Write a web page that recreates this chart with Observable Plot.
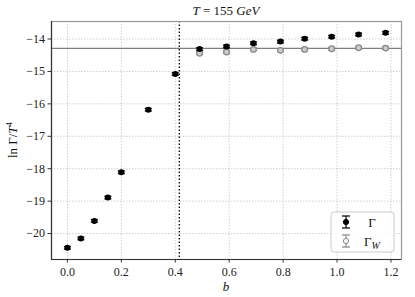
<!DOCTYPE html>
<html><head><meta charset="utf-8">
<script src="https://cdn.jsdelivr.net/npm/d3@7"></script>
<script src="https://cdn.jsdelivr.net/npm/@observablehq/plot@0.6"></script>
<style>
body{margin:0;background:#fff;}
svg text{font-family:"Liberation Serif","DejaVu Serif",serif !important;}
</style></head>
<body><div id="chart"></div>
<script>
// Data
const bGamma = [0.0, 0.05, 0.1, 0.15, 0.2, 0.3, 0.4, 0.49, 0.59, 0.69, 0.79, 0.88, 0.98, 1.08, 1.18];
const lnGamma = [-20.44, -20.15, -19.61, -18.89, -18.11, -16.18, -15.08, -14.31, -14.23, -14.13, -14.08, -13.99, -13.93, -13.86, -13.81];
const errGamma = [0.04, 0.04, 0.04, 0.04, 0.04, 0.04, 0.04, 0.04, 0.04, 0.04, 0.04, 0.04, 0.04, 0.04, 0.04];
const bW = [0.49, 0.59, 0.69, 0.79, 0.88, 0.98, 1.08, 1.18];
const lnGammaW = [-14.44, -14.40, -14.32, -14.35, -14.32, -14.30, -14.27, -14.28];
const errW = [0.04, 0.04, 0.04, 0.04, 0.04, 0.04, 0.04, 0.04];
const hLine = [-14.29];
const vLine = [0.415];
const xTicks = [0.0, 0.2, 0.4, 0.6, 0.8, 1.0, 1.2];
const yTicks = [-14, -15, -16, -17, -18, -19, -20];
const xDomain = [-0.059, 1.239];
const yDomain = [-20.8, -13.46];

const G = bGamma.map((b, i) => ({b, v: lnGamma[i], e: errGamma[i]}));
const W = bW.map((b, i) => ({b, v: lnGammaW[i], e: errW[i]}));

const cap = {draw(ctx, size){ ctx.moveTo(-3.5, 0); ctx.lineTo(3.5, 0); }};
const minus = d => (d < 0 ? "\u2212" : "") + Math.abs(d);
const ff = "Liberation Serif, DejaVu Serif, serif";

const plot = Plot.plot({
  width: 415, height: 297,
  marginLeft: 51, marginRight: 14, marginTop: 21, marginBottom: 38,
  style: {fontFamily: ff, fontSize: "12px", color: "#222"},
  x: {domain: xDomain, label: null},
  y: {domain: yDomain, label: null},
  marks: [
    Plot.gridX(xTicks, {stroke: "#bbb", strokeOpacity: 1, strokeDasharray: "1.5,1.5", strokeWidth: 0.7}),
    Plot.gridY(yTicks, {stroke: "#bbb", strokeOpacity: 1, strokeDasharray: "1.5,1.5", strokeWidth: 0.7}),
    Plot.ruleY(hLine, {stroke: "#7f7f7f", strokeWidth: 1.3}),
    Plot.ruleX(vLine, {stroke: "#000", strokeDasharray: "1.5,2", strokeWidth: 1.3}),
    // Gamma_W
    Plot.link(W, {x1: "b", x2: "b", y1: d => d.v - d.e, y2: d => d.v + d.e, stroke: "#888", strokeWidth: 1.2}),
    Plot.dot(W, {x: "b", y: d => d.v - d.e, symbol: cap, stroke: "#888", strokeWidth: 1.2}),
    Plot.dot(W, {x: "b", y: d => d.v + d.e, symbol: cap, stroke: "#888", strokeWidth: 1.2}),
    Plot.dot(W, {x: "b", y: "v", r: 2.8, stroke: "#888", fill: "#ccc", strokeWidth: 1.2}),
    // Gamma
    Plot.link(G, {x1: "b", x2: "b", y1: d => d.v - d.e, y2: d => d.v + d.e, stroke: "#000", strokeWidth: 1.2}),
    Plot.dot(G, {x: "b", y: d => d.v - d.e, symbol: cap, stroke: "#000", strokeWidth: 1.3}),
    Plot.dot(G, {x: "b", y: d => d.v + d.e, symbol: cap, stroke: "#000", strokeWidth: 1.3}),
    Plot.dot(G, {x: "b", y: "v", r: 3, fill: "#000"}),
    Plot.frame({stroke: "#999", strokeWidth: 1.2}),
    Plot.ruleX([xDomain[0]], {stroke: "#333", strokeWidth: 1.2}),
    Plot.ruleY([yDomain[0]], {stroke: "#333", strokeWidth: 1.2}),
    Plot.axisX({ticks: xTicks, tickFormat: d3.format(".1f"), tickSize: 3.5, stroke: "#333", fontSize: 12, fontFamily: ff, label: null, tickPadding: 4}),
    Plot.axisY({ticks: yTicks, tickFormat: minus, tickSize: 3.5, stroke: "#333", fontSize: 12, fontFamily: ff, label: null, tickPadding: 3})
  ]
});

const svg = d3.select(plot);
// Title
const t = svg.append("text").attr("x", 226).attr("y", 15).attr("text-anchor", "middle")
  .attr("font-size", 13).attr("font-family", ff).attr("fill", "#111");
t.append("tspan").attr("font-style", "italic").text("T");
t.append("tspan").text(" = 155 ");
t.append("tspan").attr("font-style", "italic").text("GeV");
// x label
svg.append("text").attr("x", 226).attr("y", 291).attr("text-anchor", "middle")
  .attr("font-size", 13).attr("font-style", "italic").attr("font-family", ff).attr("fill", "#111").text("b");
// y label
const yl = svg.append("text").attr("transform", "translate(17,140) rotate(-90)").attr("text-anchor", "middle")
  .attr("font-size", 13).attr("font-family", ff).attr("fill", "#111");
yl.append("tspan").text("ln \u0393/");
yl.append("tspan").attr("font-style", "italic").text("T");
yl.append("tspan").attr("font-size", 9).attr("dy", -5).text("4");
// Legend
const lg = svg.append("g");
lg.append("rect").attr("x", 331).attr("y", 212).attr("width", 63).attr("height", 40).attr("rx", 3)
  .attr("fill", "#fff").attr("fill-opacity", 0.85).attr("stroke", "#ccc");
function entry(y, color, fill, label, sub) {
  lg.append("line").attr("x1", 346).attr("x2", 346).attr("y1", y - 6).attr("y2", y + 6).attr("stroke", color).attr("stroke-width", 1.2);
  lg.append("line").attr("x1", 342).attr("x2", 350).attr("y1", y - 6).attr("y2", y - 6).attr("stroke", color).attr("stroke-width", 1.2);
  lg.append("line").attr("x1", 342).attr("x2", 350).attr("y1", y + 6).attr("y2", y + 6).attr("stroke", color).attr("stroke-width", 1.2);
  lg.append("circle").attr("cx", 346).attr("cy", y).attr("r", 2.6).attr("fill", fill).attr("stroke", color);
  const tx = lg.append("text").attr("x", 372).attr("y", y + 4.5).attr("font-size", 13).attr("font-family", ff).attr("fill", "#111");
  tx.append("tspan").text(label);
  if (sub) tx.append("tspan").attr("font-size", 10).attr("font-style", "italic").attr("dy", 3).text(sub);
}
entry(222, "#000", "#000", "\u0393", null);
entry(241, "#888", "#fff", "\u0393", "W");
document.getElementById("chart").appendChild(plot);
</script></body></html>
